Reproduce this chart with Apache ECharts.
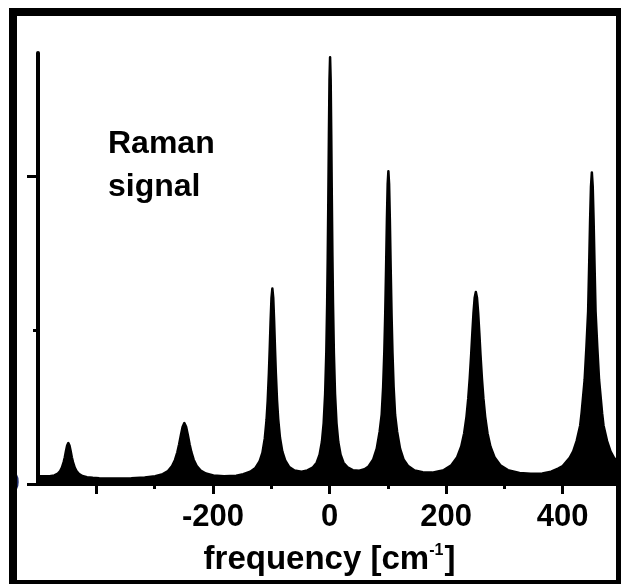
<!DOCTYPE html>
<html><head><meta charset="utf-8">
<script src="https://cdn.jsdelivr.net/npm/echarts@6/dist/echarts.min.js"></script>
<style>html,body{margin:0;padding:0;background:#fff}#c{width:621px;height:584px}</style>
</head><body><div id="c"></div>
<script>
// Spectrum, one small array per Raman line: [frequency cm^-1, signal]
const peakM450 = [[-500,0.025],[-490,0.025],[-480,0.025],[-472,0.028],[-466,0.034],[-462,0.042],[-459,0.053],[-456,0.071],[-454,0.087],[-452,0.107],[-450,0.125],[-448,0.133],[-446,0.125],[-444,0.107],[-442,0.087],[-440,0.071],[-437,0.053],[-434,0.042],[-430,0.033],[-424,0.026],[-416,0.022],[-406,0.020],[-395,0.019],[-370,0.018]];
const peakM250 = [[-340,0.019],[-317,0.021],[-299,0.025],[-286,0.032],[-277,0.042],[-270,0.058],[-265,0.078],[-261,0.103],[-258,0.128],[-255,0.158],[-252,0.185],[-249,0.198],[-246,0.186],[-243,0.159],[-240,0.129],[-237,0.104],[-233,0.079],[-228,0.059],[-221,0.044],[-212,0.034],[-199,0.028],[-181,0.025]];
const peakM100 = [[-160,0.027],[-148,0.032],[-136,0.040],[-127,0.052],[-120,0.073],[-115,0.102],[-111,0.148],[-108,0.208],[-106,0.270],[-104,0.358],[-102.5,0.440],[-101,0.530],[-99.5,0.605],[-98,0.635],[-96.5,0.605],[-95,0.530],[-93.5,0.441],[-92,0.360],[-90,0.272],[-88,0.211],[-85,0.151],[-81,0.106],[-76,0.077],[-69,0.055],[-60,0.044],[-48,0.040]];
const peak0 = [[-38,0.044],[-29,0.053],[-22,0.069],[-17,0.095],[-13,0.137],[-10,0.198],[-7.5,0.292],[-5.5,0.426],[-4,0.588],[-3,0.739],[-2,0.926],[-1,1.134],[0,1.313],[1,1.386],[2,1.313],[3,1.134],[4,0.926],[5,0.739],[6,0.588],[7.5,0.426],[9.5,0.292],[12,0.198],[15,0.137],[19,0.095],[24,0.069],[31,0.054],[40,0.045]];
const peakP100 = [[51,0.043],[60,0.048],[67,0.057],[75,0.080],[81,0.115],[86,0.170],[89.5,0.225],[92,0.315],[94,0.428],[95.5,0.546],[97,0.696],[98.5,0.861],[99.8,0.975],[101,1.016],[102.2,0.975],[103.5,0.861],[105,0.696],[106.5,0.546],[108,0.428],[110,0.315],[112.5,0.225],[116,0.170],[121,0.115],[127,0.080],[135,0.058],[146,0.044],[160,0.038]];
const peakP250 = [[176,0.037],[196,0.045],[209,0.061],[219,0.087],[226,0.122],[231,0.165],[235,0.219],[238,0.278],[240.5,0.342],[243,0.420],[245,0.490],[247,0.556],[249,0.605],[251,0.624],[253,0.605],[255,0.556],[257,0.490],[259,0.420],[261.5,0.342],[264,0.278],[267,0.219],[271,0.165],[276,0.122],[283,0.087],[293,0.061],[306,0.045],[326,0.036],[345,0.033]];
const peakP450 = [[365,0.034],[380,0.040],[392,0.050],[400,0.058],[412,0.085],[418,0.106],[424,0.140],[430,0.190],[432.4,0.230],[437.6,0.338],[440.7,0.446],[443.6,0.560],[445.5,0.721],[447,0.857],[448.5,0.966],[450,1.012],[451.5,0.966],[453,0.857],[454.5,0.721],[456.4,0.560],[459.3,0.446],[462.4,0.338],[467.6,0.230],[470,0.190],[476,0.140],[482,0.106],[488,0.085],[500,0.062]];

const xMajorTicks = [-400,-200,0,200,400];
const xMinorTicks = [-300,-100,100,300];
const xTickLabels = [-200,0,200,400];
const yMajorTicks = [0,1];
const yMinorTicks = [0.5];
const yTickLabels = [0];
const annotationText = 'Raman\nsignal';
const xAxisTitle = 'frequency [cm{sup|-1}]';

const spectrum = [].concat(peakM450, peakM250, peakM100, peak0, peakP100, peakP250, peakP450);
const FONT = '"Liberation Sans", Arial, sans-serif';

const chart = echarts.init(document.getElementById('c'), null, {renderer: 'canvas'});
const common = {type: 'value', min: -500, max: 500, position: 'bottom', splitLine: {show: false}};
chart.setOption({
  animation: false,
  backgroundColor: '#fff',
  grid: {left: 38, right: 0, top: 53, bottom: 100, containLabel: false, outerBoundsMode: 'none'},
  xAxis: [
    Object.assign({}, common, {
      axisLine: {show: true, onZero: false, lineStyle: {color: '#000', width: 3}},
      axisTick: {show: true, customValues: xMajorTicks, length: 10, lineStyle: {color: '#000', width: 3}},
      axisLabel: {show: true, customValues: xTickLabels, color: '#000', fontSize: 31, fontWeight: 'bold', fontFamily: FONT, margin: 18},
      name: xAxisTitle, nameLocation: 'middle', nameGap: 59,
      nameTextStyle: {color: '#000', fontSize: 33, fontWeight: 'bold', fontFamily: FONT,
        rich: {sup: {fontSize: 16, fontWeight: 'bold', fontFamily: FONT, color: '#000', verticalAlign: 'top', padding: [0, 1, 15, 0]}}}
    }),
    Object.assign({}, common, {
      axisLine: {show: false, onZero: false},
      axisTick: {show: true, customValues: xMinorTicks, length: 5, lineStyle: {color: '#000', width: 3}},
      axisLabel: {show: false}
    })
  ],
  yAxis: [
    {type: 'value', min: 0, max: 1.4, position: 'left', splitLine: {show: false},
      axisLine: {show: true, onZero: false, lineStyle: {color: '#000', width: 4}},
      axisTick: {show: true, customValues: yMajorTicks, length: 11, lineStyle: {color: '#000', width: 3}},
      axisLabel: {show: true, customValues: yTickLabels, color: '#1f2d6b', fontSize: 30, fontWeight: 'bold', fontFamily: FONT, margin: 18}
    },
    {type: 'value', min: 0, max: 1.4, position: 'left', offset: 0, splitLine: {show: false},
      axisLine: {show: false, onZero: false},
      axisTick: {show: true, customValues: yMinorTicks, length: 5, lineStyle: {color: '#000', width: 3}},
      axisLabel: {show: false}
    }
  ],
  series: [{
    type: 'line', xAxisIndex: 0, yAxisIndex: 0, data: spectrum, symbol: 'none', smooth: false,
    lineStyle: {color: '#000', width: 2.5, join: 'round'},
    areaStyle: {color: '#000', opacity: 1},
    z: 1
  }],
  graphic: [
    {type: 'text', left: 108, top: 123, z: 50,
      style: {text: annotationText, fontSize: 32, fontWeight: 'bold', fontFamily: FONT, lineHeight: 43, fill: '#000'}},
    {type: 'rect', z: 100, shape: {x: 0, y: 0, width: 9, height: 584}, style: {fill: '#fff'}},
    {type: 'rect', z: 100, shape: {x: 9, y: 8, width: 8, height: 576}, style: {fill: '#000'}},
    {type: 'rect', z: 100, shape: {x: 9, y: 8, width: 612, height: 8}, style: {fill: '#000'}},
    {type: 'rect', z: 100, shape: {x: 616, y: 8, width: 5, height: 576}, style: {fill: '#000'}},
    {type: 'rect', z: 100, shape: {x: 9, y: 580, width: 612, height: 4}, style: {fill: '#000'}}
  ]
});
</script>
</body></html>
